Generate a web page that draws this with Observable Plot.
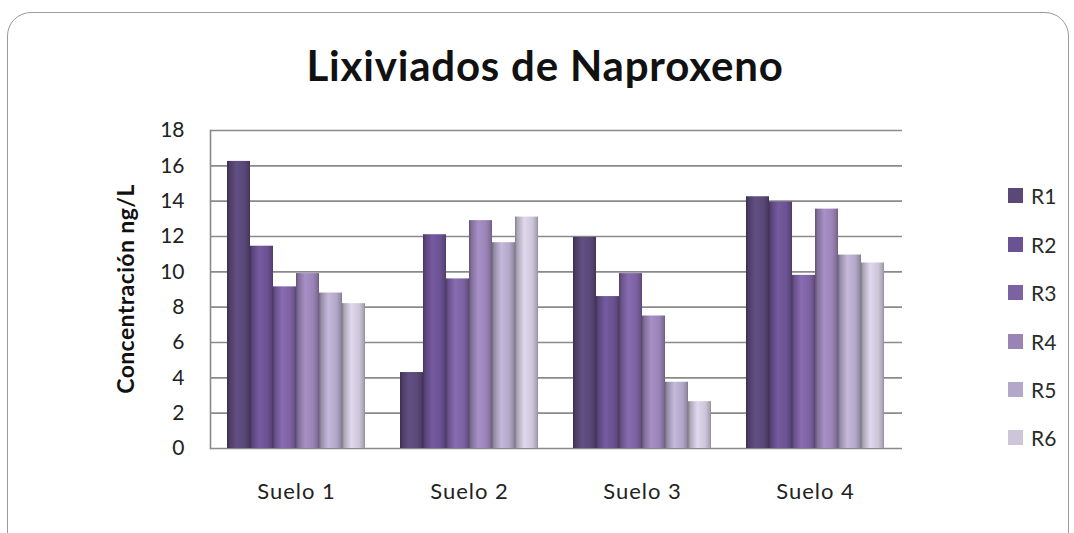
<!DOCTYPE html>
<html>
<head>
<meta charset="utf-8">
<script src="https://cdn.jsdelivr.net/npm/d3@7"></script>
<script src="https://cdn.jsdelivr.net/npm/@observablehq/plot@0.6"></script>
<style>
  html, body { margin: 0; padding: 0; background: #fff; }
  #wrap { position: relative; width: 1074px; height: 533px; overflow: hidden; background: #fff; font-family: Lato, "Open Sans", sans-serif; }
  #frame { position: absolute; left: 7px; top: 12px; width: 1062px; height: 545px; border: 1.5px solid #9a9a9a; border-radius: 24px; box-sizing: border-box; }
  #title { position: absolute; left: 0; top: 38px; width: 1090px; text-align: center; font-weight: bold; font-size: 42px; letter-spacing: 0.8px; color: #111; line-height: 54px; }
  #ylabel { position: absolute; left: 125px; top: 289px; transform: translate(-50%, -50%) rotate(-90deg); white-space: nowrap; font-weight: bold; font-size: 23px; letter-spacing: 0.4px; color: #111; }
  .layer { position: absolute; left: 0; top: 0; }
  #legend { position: absolute; left: 1008px; top: 0; }
  .li { position: absolute; left: 0; display: flex; align-items: center; white-space: nowrap; font-size: 21px; color: #2a2a2a; }
  .sw { width: 15px; height: 15px; margin-right: 8px; }
  #bars g[aria-label="fx-axis tick label"] text { letter-spacing: 1px; }
</style>
</head>
<body>
<div id="wrap">
  <div id="frame"></div>
  <div id="title">Lixiviados de Naproxeno</div>
  <div id="ylabel">Concentración ng/L</div>
  <div id="base" class="layer"></div>
  <div id="bars" class="layer"></div>
  <div id="legend"></div>
</div>
<script>
// ---- data ----
const suelos = ["Suelo 1", "Suelo 2", "Suelo 3", "Suelo 4"];
const series = ["R1", "R2", "R3", "R4", "R5", "R6"];
const R1 = [16.25, 4.3, 11.95, 14.25];
const R2 = [11.45, 12.1, 8.6, 13.95];
const R3 = [9.15, 9.6, 9.9, 9.8];
const R4 = [9.9, 12.9, 7.5, 13.55];
const R5 = [8.8, 11.65, 3.75, 10.95];
const R6 = [8.2, 13.1, 2.65, 10.5];
const yTicks = [0, 2, 4, 6, 8, 10, 12, 14, 16, 18];
const seriesColors = ["#5a4878", "#6b5292", "#7d62a2", "#9a84b6", "#b4a8c8", "#cdc6da"];

const seriesValues = [R1, R2, R3, R4, R5, R6];
const data = suelos.flatMap((s, i) => series.map((r, j) => ({suelo: s, serie: r, value: seriesValues[j][i]})));

const common = {
  width: 1074,
  height: 533,
  marginLeft: 210,
  marginRight: 172,
  marginTop: 130,
  marginBottom: 85,
  style: {fontFamily: "Lato, 'Open Sans', sans-serif", fontSize: "21px", color: "#222", background: "transparent", overflow: "visible"}
};

// base layer: gridlines, y axis, left axis line
const base = Plot.plot({
  ...common,
  y: {domain: [0, 18], label: null},
  marks: [
    Plot.gridY(yTicks, {stroke: "#8a8a8a", strokeOpacity: 1, strokeWidth: 1.6}),
    Plot.axisY(yTicks, {tickSize: 0, tickPadding: 26, fontSize: 21, fill: "#222", label: null}),
    Plot.frame({anchor: "left", stroke: "#8a8a8a", strokeWidth: 1.6})
  ]
});

// bar layer: faceted by soil
const bars = Plot.plot({
  ...common,
  fx: {domain: suelos, paddingInner: 0.2, paddingOuter: 0.1, label: null},
  x: {domain: series, padding: 0, axis: null},
  y: {domain: [0, 18], axis: null},
  color: {domain: series, range: series.map(s => `url(#grad-${s})`)},
  marks: [
    Plot.axisFx({anchor: "bottom", tickSize: 0, tickPadding: 35, fontSize: 22, label: null, fill: "#222"}),
    Plot.barY(data, {fx: "suelo", x: "serie", y: "value", fill: "serie", inset: 0})
  ]
});

// cylinder-style gradients for the bars
const defs = d3.select(bars).insert("defs", ":first-child");
series.forEach((s, i) => {
  const c = d3.color(seriesColors[i]);
  const g = defs.append("linearGradient").attr("id", `grad-${s}`).attr("x1", "0%").attr("x2", "100%").attr("y1", "0%").attr("y2", "0%");
  const stops = [
    [0, c.darker(1.3)],
    [0.1, c.darker(0.5)],
    [0.4, c.brighter(0.25)],
    [0.75, c],
    [0.93, c.darker(0.5)],
    [1, c.darker(1.0)]
  ];
  stops.forEach(([o, col]) => g.append("stop").attr("offset", o).attr("stop-color", col.formatHex()));
});

document.getElementById("base").appendChild(base);
document.getElementById("bars").appendChild(bars);

// legend
const legend = document.getElementById("legend");
const legendTop = [196, 245, 293, 342, 390, 438];
series.forEach((s, i) => {
  const item = document.createElement("div");
  item.className = "li";
  item.style.top = (legendTop[i] - 13) + "px";
  item.innerHTML = `<span class="sw" style="background:${seriesColors[i]}"></span><span>${s}</span>`;
  legend.appendChild(item);
});
</script>
</body>
</html>
